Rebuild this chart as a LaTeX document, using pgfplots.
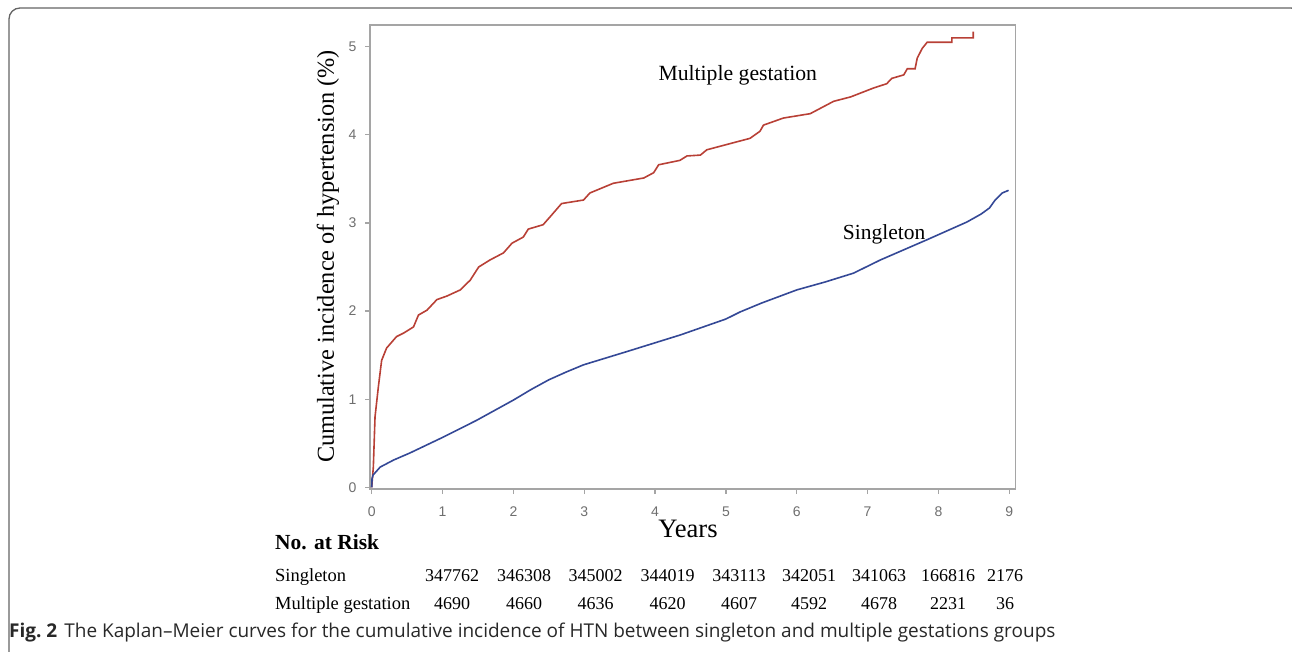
\documentclass[border=0pt]{standalone}
\usepackage{fontspec}
\setmainfont{Liberation Serif}
\newfontfamily\sansf{Liberation Sans}
\newfontfamily\capf{Open Sans}
\usepackage{pgfplots}
\pgfplotsset{compat=1.18}
\definecolor{redc}{RGB}{184,64,54}
\definecolor{bluec}{RGB}{52,72,150}
\definecolor{axgray}{RGB}{165,165,165}
\definecolor{tickgray}{RGB}{110,110,110}
\definecolor{framegray}{RGB}{100,100,100}
\definecolor{capgray}{RGB}{40,40,40}
\newcommand{\fs}[1]{\fontsize{#1}{#1}\selectfont}
\begin{document}
\begin{tikzpicture}[x=1pt,y=1pt]
\path[use as bounding box] (0,0) rectangle (1292,651);
\draw[framegray, line width=1.3pt, rounded corners=11pt] (9,-20) -- (9,643) -- (1302,643) -- (1302,-20);
\begin{axis}[
  at={(370pt,162pt)}, anchor=south west,
  scale only axis, width=645.7pt, height=464pt,
  xmin=-0.024, xmax=9.09, ymin=-0.019, ymax=5.246,
  xtick={0,1,2,3,4,5,6,7,8,9}, ytick={0,1,2,3,4,5},
  tick align=outside, xtick pos=bottom, ytick pos=left,
  major tick length=5pt,
  every tick/.style={axgray, line width=1.2pt},
  axis line style={axgray, line width=1.3pt},
  /pgf/number format/assume math mode=true,
  ticklabel style={font=\sansf\fs{14}, text=tickgray},
  xticklabel style={yshift=-9pt},
  yticklabel style={xshift=-5pt},
]
\addplot[redc, line width=1.6pt] coordinates {
(0,0) (0.023,0.23) (0.047,0.80) (0.094,1.14) (0.14,1.44) (0.21,1.58) (0.35,1.71) (0.45,1.75) (0.59,1.82) (0.66,1.955) (0.78,2.01) (0.92,2.13) (1.06,2.17) (1.25,2.24) (1.39,2.35) (1.51,2.50) (1.67,2.58) (1.86,2.66) (1.98,2.77) (2.14,2.84) (2.21,2.93) (2.42,2.98) (2.54,3.09) (2.68,3.22) (2.99,3.26) (3.08,3.34) (3.41,3.45) (3.84,3.51) (3.98,3.57) (4.05,3.66) (4.35,3.71) (4.45,3.76) (4.64,3.77) (4.73,3.83) (5.34,3.96) (5.48,4.04) (5.53,4.11) (5.81,4.19) (6.19,4.24) (6.52,4.38) (6.76,4.43) (7.08,4.53) (7.27,4.58) (7.34,4.64) (7.51,4.68) (7.56,4.75) (7.67,4.75) (7.70,4.87) (7.77,4.98) (7.84,5.05) (8.19,5.05) (8.19,5.10) (8.49,5.10) (8.49,5.17)
};
\addplot[bluec, line width=1.6pt] coordinates {
(0,0) (0.005,0.10) (0.02,0.14) (0.12,0.23) (0.31,0.31) (0.54,0.39) (1.01,0.57) (1.48,0.76) (2.0,0.99) (2.25,1.11) (2.5,1.22) (2.75,1.31) (2.99,1.39) (3.60,1.54) (4.36,1.73) (5.0,1.91) (5.2,1.99) (5.5,2.09) (6.00,2.24) (6.4,2.33) (6.8,2.43) (7.18,2.58) (7.84,2.81) (8.40,3.01) (8.60,3.10) (8.72,3.17) (8.80,3.26) (8.90,3.34) (8.99,3.37)
};
\end{axis}
\node[anchor=base west, inner sep=0pt, font=\fs{21.7}] at (658.3,570) {Multiple gestation};
\node[anchor=base west, inner sep=0pt, font=\fs{21.5}] at (842.7,411.5) {Singleton};
\node[anchor=base, inner sep=0pt, font=\fs{26.6}] at (688,114) {Years};
\node[rotate=90, inner sep=0pt, font=\fs{24.3}] at (328,394.5) {Cumulative incidence of hypertension (\%)};
\node[anchor=base west, inner sep=0pt, font=\bfseries\fs{21.5}] at (275,101.7) {No. at Risk};
\node[anchor=base west, inner sep=0pt, font=\fs{18.5}] at (275,70) {Singleton};
\node[anchor=base west, inner sep=0pt, font=\fs{18.5}] at (275,41.7) {Multiple gestation};
\foreach \x/\a/\b in {452/347762/4690, 524/346308/4660, 595.5/345002/4636, 667.5/344019/4620, 739/343113/4607, 809/342051/4592, 879/341063/4678, 948/166816/2231, 1005/2176/36}{
  \node[anchor=base, inner sep=0pt, font=\fs{18}] at (\x,70) {\a};
  \node[anchor=base, inner sep=0pt, font=\fs{18}] at (\x,41.7) {\b};
}
\node[anchor=base west, inner sep=0pt, font=\capf\fs{19}, text=capgray] at (9,14) {\textbf{Fig.~2}\hspace{7pt}The Kaplan–Meier curves for the cumulative incidence of HTN between singleton and multiple gestations groups};
\end{tikzpicture}
\end{document}
